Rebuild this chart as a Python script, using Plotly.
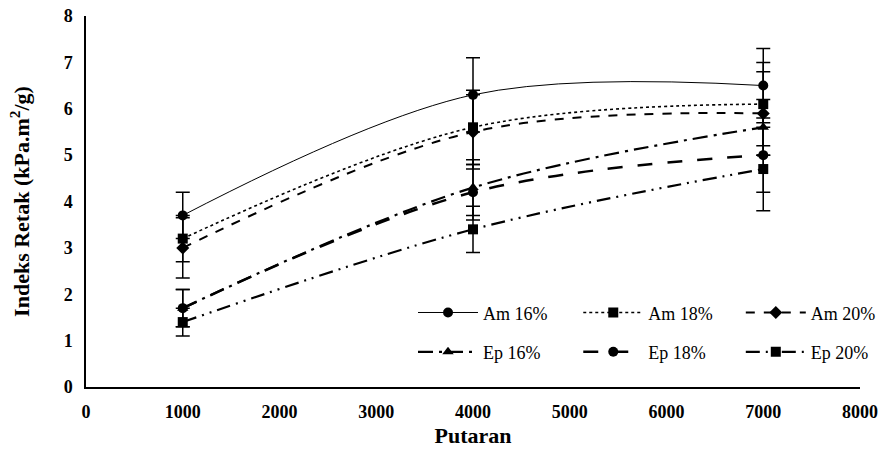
import plotly.graph_objects as go

putaran = [1000, 4000, 7000]

names = ["Am 16%", "Am 18%", "Am 20%", "Ep 16%", "Ep 18%", "Ep 20%"]
am16 = [3.7, 6.3, 6.5]
am18 = [3.2, 5.6, 6.1]
am20 = [3.0, 5.5, 5.9]
ep16 = [1.7, 4.3, 5.6]
ep18 = [1.7, 4.2, 5.0]
ep20 = [1.4, 3.4, 4.7]

err_am16 = [0.5, 0.8, 0.8]
err_am18 = [0.5, 0.8, 0.9]
err_am20 = [0.65, 0.8, 0.9]
err_ep16 = [0.4, 0.6, 0.6]
err_ep18 = [0.4, 0.6, 0.8]
err_ep20 = [0.3, 0.5, 0.9]

series = [am16, am18, am20, ep16, ep18, ep20]
errors = [err_am16, err_am18, err_am20, err_ep16, err_ep18, err_ep20]

styles = [
    dict(dash="solid", width=1, symbol="circle", size=10),
    dict(dash="dot", width=1.6, symbol="square", size=10),
    dict(dash="dash", width=2, symbol="diamond", size=10),
    dict(dash="longdashdot", width=2.2, symbol="triangle-up", size=10),
    dict(dash="longdash", width=2.5, symbol="circle", size=10),
    dict(dash="14px,6px,2px,6px,2px,6px", width=2.2, symbol="square", size=10),
]

# legend slot positions (paper coords): 3 columns x 2 rows
legend_x = [0.4225, 0.636, 0.846, 0.4225, 0.636, 0.846]
legend_y = [0.20, 0.20, 0.20, 0.094, 0.094, 0.094]

font_family = "Liberation Serif, Times New Roman, serif"

fig = go.Figure()
for i, (name, vals, errs, st) in enumerate(zip(names, series, errors, styles)):
    lg = "legend" if i == 0 else f"legend{i + 1}"
    fig.add_trace(go.Scatter(
        x=putaran, y=vals, name=name, mode="lines+markers", legend=lg,
        line=dict(color="black", width=st["width"], dash=st["dash"], shape="spline", smoothing=1.0),
        marker=dict(symbol=st["symbol"], size=st["size"], color="black"),
        error_y=dict(type="data", array=errs, visible=True, color="black", thickness=1.5, width=7),
    ))

legend_common = dict(
    xanchor="left", yanchor="middle", itemwidth=60, bgcolor="rgba(0,0,0,0)",
    font=dict(family=font_family, size=18, color="black"),
)
layout_legends = {}
for i in range(len(names)):
    key = "legend" if i == 0 else f"legend{i + 1}"
    layout_legends[key] = dict(x=legend_x[i], y=legend_y[i], **legend_common)

fig.update_layout(
    width=889, height=457,
    margin=dict(l=86, r=29, t=16, b=70, autoexpand=False),
    paper_bgcolor="white", plot_bgcolor="white",
    font=dict(family=font_family, color="black"),
    showlegend=True,
    **layout_legends,
)
fig.update_xaxes(
    range=[0, 8000], dtick=1000, tick0=0, showgrid=False, zeroline=False,
    showline=True, linecolor="black", linewidth=1.5, ticks="outside", ticklen=8, tickcolor="rgba(0,0,0,0)",
    tickfont=dict(family=font_family, size=18, color="black", weight="bold"),
    title=dict(text="<b>Putaran</b>", font=dict(family=font_family, size=22, color="black"), standoff=6),
)
fig.update_yaxes(
    range=[0, 8], dtick=1, tick0=0, showgrid=False, zeroline=False,
    showline=True, linecolor="black", linewidth=1.5, ticks="outside", ticklen=8, tickcolor="rgba(0,0,0,0)",
    tickfont=dict(family=font_family, size=18, color="black", weight="bold"),
    title=dict(text="<b>Indeks Retak (kPa.m<sup>2</sup>/g)</b>", font=dict(family=font_family, size=22, color="black"), standoff=28),
)

fig.write_html("out.html")
